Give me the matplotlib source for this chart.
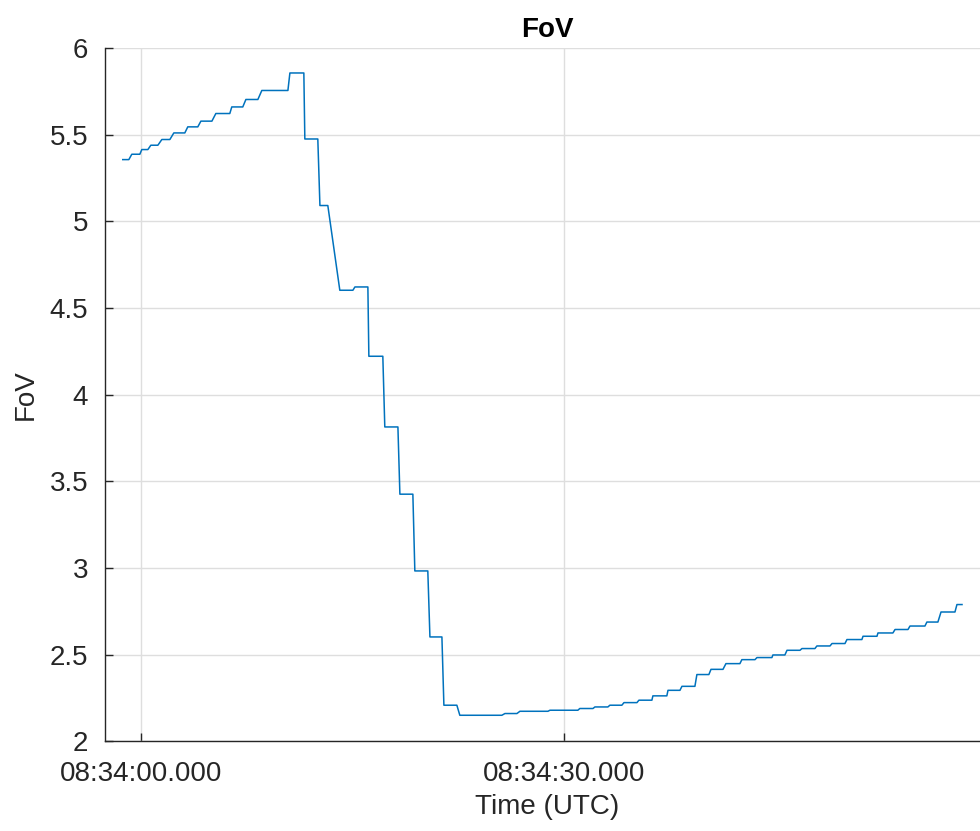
import datetime as dt
import matplotlib
matplotlib.use("Agg")
import matplotlib.pyplot as plt
import matplotlib.dates as mdates
from matplotlib.ticker import FuncFormatter

# FoV telemetry: vertices of the trace, seconds after 08:34:00 UTC
t_sec = [
    -1.28, -0.85, -0.64, -0.07, 0.07, 0.50, 0.71, 1.21, 1.49, 2.06,
    2.34, 3.12, 3.33, 4.04, 4.26, 5.04, 5.32, 6.31, 6.45, 7.23,
    7.45, 8.30, 8.58, 10.43, 10.57, 11.56, 11.63, 12.55, 12.70, 13.26,
    14.11, 15.04, 15.18, 16.10, 16.17, 17.16, 17.30, 18.23, 18.37, 19.29,
    19.43, 20.35, 20.50, 21.35, 21.49, 22.41, 22.62, 25.60, 25.82, 26.67,
    26.88, 28.87, 29.01, 30.99, 31.13, 32.06, 32.20, 33.12, 33.26, 34.11,
    34.26, 35.18, 35.32, 36.24, 36.31, 37.30, 37.38, 38.23, 38.37, 39.29,
    39.43, 40.28, 40.43, 41.28, 41.49, 42.48, 42.62, 43.55, 43.69, 44.75,
    44.82, 45.67, 45.82, 46.74, 46.88, 47.80, 47.94, 48.87, 49.01, 49.93,
    50.07, 51.13, 51.21, 52.20, 52.27, 53.33, 53.48, 54.40, 54.54, 55.60,
    55.74, 56.52, 56.74, 57.73, 57.87, 58.23,
]
fov = [
    5.357, 5.357, 5.388, 5.388, 5.415, 5.415, 5.440, 5.440, 5.473, 5.473,
    5.511, 5.511, 5.546, 5.546, 5.579, 5.579, 5.623, 5.623, 5.661, 5.661,
    5.704, 5.704, 5.756, 5.756, 5.857, 5.857, 5.476, 5.476, 5.092, 5.092,
    4.603, 4.603, 4.622, 4.622, 4.222, 4.222, 3.814, 3.814, 3.426, 3.426,
    2.983, 2.983, 2.602, 2.602, 2.208, 2.208, 2.150, 2.150, 2.160, 2.160,
    2.173, 2.173, 2.179, 2.179, 2.189, 2.189, 2.198, 2.198, 2.208, 2.208,
    2.223, 2.223, 2.237, 2.237, 2.262, 2.262, 2.294, 2.294, 2.317, 2.317,
    2.385, 2.385, 2.415, 2.415, 2.448, 2.448, 2.471, 2.471, 2.483, 2.483,
    2.498, 2.498, 2.525, 2.525, 2.535, 2.535, 2.550, 2.550, 2.564, 2.564,
    2.587, 2.587, 2.606, 2.606, 2.625, 2.625, 2.645, 2.645, 2.665, 2.665,
    2.688, 2.688, 2.746, 2.746, 2.789, 2.789,
]
y_ticks = [2, 2.5, 3, 3.5, 4, 4.5, 5, 5.5, 6]
x_tick_sec = [0, 30]

t0 = dt.datetime(2000, 1, 1, 8, 34, 0)
times = [t0 + dt.timedelta(seconds=s) for s in t_sec]
x_ticks = [t0 + dt.timedelta(seconds=s) for s in x_tick_sec]

plt.rcParams["font.family"] = ["Liberation Sans", "DejaVu Sans"]
axis_col = "#262626"

fig = plt.figure(figsize=(9.8, 8.31), dpi=100)
ax = fig.add_axes([0.107, 0.108, 0.903, 0.834])

ax.plot(times, fov, color="#0072BD", lw=1.1)

ax.set_xlim(t0 + dt.timedelta(seconds=-2.55), t0 + dt.timedelta(seconds=60.2))
ax.set_ylim(2, 6)
ax.set_yticks(y_ticks)
ax.yaxis.set_major_formatter(FuncFormatter(lambda v, p: f"{v:g}"))

ax.set_xticks(mdates.date2num(x_ticks))
ax.xaxis.set_major_formatter(
    FuncFormatter(lambda v, p: mdates.num2date(v).strftime("%H:%M:%S.")
                  + f"{mdates.num2date(v).microsecond // 1000:03d}"))

ax.grid(True, color="#dedede", lw=1.0)
ax.set_axisbelow(True)
for s in ("top", "right"):
    ax.spines[s].set_visible(False)
for s in ("left", "bottom"):
    ax.spines[s].set_color(axis_col)
    ax.spines[s].set_linewidth(1.0)
ax.tick_params(direction="in", length=6, width=1.0, colors=axis_col,
               labelsize=20, labelcolor=axis_col)
ax.tick_params(axis="x", pad=14)
ax.tick_params(axis="y", pad=12)

ax.set_xlabel("Time (UTC)", fontsize=20, color=axis_col, labelpad=5)
ax.set_ylabel("FoV", fontsize=20, color=axis_col, labelpad=8)
ax.set_title("FoV", fontsize=20, fontweight="bold", color="black", pad=8)

fig.savefig("out.png", dpi=100)
